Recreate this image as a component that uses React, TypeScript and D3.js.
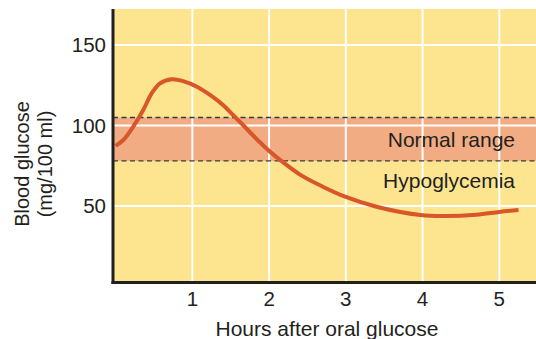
import { useEffect, useRef } from "react";
import * as d3 from "d3";

// curve
const hours = [0, 0.1, 0.23, 0.36, 0.47, 0.58, 0.73, 0.88, 1.06, 1.23, 1.4, 1.53, 1.66, 1.85, 2.03, 2.16, 2.42, 2.7, 3.0, 3.4, 3.97, 4.3, 4.7, 5.0, 5.25];
const glucose = [87.3, 91, 99.3, 109.6, 120, 126.2, 128.7, 127.6, 124.1, 119, 112.7, 106.5, 100.3, 91, 83, 78, 69, 62, 55.6, 49.5, 44.4, 43.8, 44.6, 46.3, 47.5];

const xTicks = [1, 2, 3, 4, 5];
const yTicks = [50, 100, 150];
const normalRange = [78, 105];
const bandLabels = ["Normal range", "Hypoglycemia"];

const W = 536;
const H = 339;
const FONT = "'Liberation Sans', Arial, Helvetica, sans-serif";
const INK = "#231f20";

export default function App() {
  const ref = useRef<SVGSVGElement>(null);

  useEffect(() => {
    const svg = d3.select(ref.current);
    svg.selectAll("*").remove();

    const x = d3.scaleLinear().domain([0, 5]).range([115.6, 499.3]);
    const y = d3.scaleLinear().domain([0, 150]).range([286.5, 45]);

    const left = 113;
    const top = 9;
    const bottom = 282.5;
    const right = W;

    svg
      .append("rect")
      .attr("x", left)
      .attr("y", top)
      .attr("width", right - left)
      .attr("height", bottom - top)
      .attr("fill", "#fde590");

    svg
      .append("rect")
      .attr("x", left)
      .attr("y", y(normalRange[1]))
      .attr("width", right - left)
      .attr("height", y(normalRange[0]) - y(normalRange[1]))
      .attr("fill", "#f2ac84");

    // grid
    svg
      .selectAll("line.vgrid")
      .data(xTicks)
      .join("line")
      .attr("x1", (d) => x(d))
      .attr("x2", (d) => x(d))
      .attr("y1", top)
      .attr("y2", bottom)
      .attr("stroke", "#fff")
      .attr("stroke-width", 2);

    svg
      .selectAll("line.hgrid")
      .data(yTicks)
      .join("line")
      .attr("x1", left)
      .attr("x2", right)
      .attr("y1", (d) => y(d))
      .attr("y2", (d) => y(d))
      .attr("stroke", "#fff")
      .attr("stroke-width", 2);

    // dashed band edges
    svg
      .selectAll("line.dash")
      .data(normalRange)
      .join("line")
      .attr("x1", left)
      .attr("x2", right)
      .attr("y1", (d) => y(d))
      .attr("y2", (d) => y(d))
      .attr("stroke", "#3a3a3a")
      .attr("stroke-width", 1.4)
      .attr("stroke-dasharray", "5,3.5");

    const pts: [number, number][] = hours.map((h, i) => [h, glucose[i]]);
    svg
      .append("path")
      .datum(pts)
      .attr("fill", "none")
      .attr("stroke", "#d9552a")
      .attr("stroke-width", 4)
      .attr("stroke-linecap", "butt")
      .attr(
        "d",
        d3
          .line<[number, number]>()
          .x((d) => x(d[0]))
          .y((d) => y(d[1]))
          .curve(d3.curveCatmullRom)
      );

    // band labels
    svg
      .selectAll("text.band")
      .data(bandLabels)
      .join("text")
      .attr("x", 515)
      .attr("y", (d, i) => (i === 0 ? y((normalRange[0] + normalRange[1]) / 2) : y(66)))
      .attr("dy", "0.36em")
      .attr("text-anchor", "end")
      .attr("fill", INK)
      .style("font-family", FONT)
      .style("font-size", "21px")
      .text((d) => d);

    // axes
    svg
      .append("line")
      .attr("x1", left)
      .attr("x2", left)
      .attr("y1", top)
      .attr("y2", bottom + 1.5)
      .attr("stroke", INK)
      .attr("stroke-width", 3);
    svg
      .append("line")
      .attr("x1", left - 1.5)
      .attr("x2", right)
      .attr("y1", bottom)
      .attr("y2", bottom)
      .attr("stroke", INK)
      .attr("stroke-width", 3);

    svg
      .selectAll("text.ytick")
      .data(yTicks)
      .join("text")
      .attr("x", 106)
      .attr("y", (d) => y(d))
      .attr("dy", "0.36em")
      .attr("text-anchor", "end")
      .attr("fill", INK)
      .style("font-family", FONT)
      .style("font-size", "20.5px")
      .text((d) => d);

    svg
      .selectAll("text.xtick")
      .data(xTicks)
      .join("text")
      .attr("x", (d) => x(d))
      .attr("y", 306)
      .attr("text-anchor", "middle")
      .attr("fill", INK)
      .style("font-family", FONT)
      .style("font-size", "20.5px")
      .text((d) => d);

    svg
      .append("text")
      .attr("x", 327)
      .attr("y", 336)
      .attr("text-anchor", "middle")
      .attr("fill", INK)
      .style("font-family", FONT)
      .style("font-size", "21px")
      .text("Hours after oral glucose");

    const yTitle = svg
      .append("text")
      .attr("transform", "translate(29,164) rotate(-90)")
      .attr("text-anchor", "middle")
      .attr("fill", INK)
      .style("font-family", FONT)
      .style("font-size", "20px");
    yTitle.append("tspan").attr("x", 0).attr("y", 0).text("Blood glucose");
    yTitle.append("tspan").attr("x", 0).attr("y", 23).text("(mg/100 ml)");
  }, []);

  return (
    <svg
      ref={ref}
      width={W}
      height={H}
      style={{ position: "absolute", left: 0, top: 0, background: "#fff" }}
    />
  );
}
